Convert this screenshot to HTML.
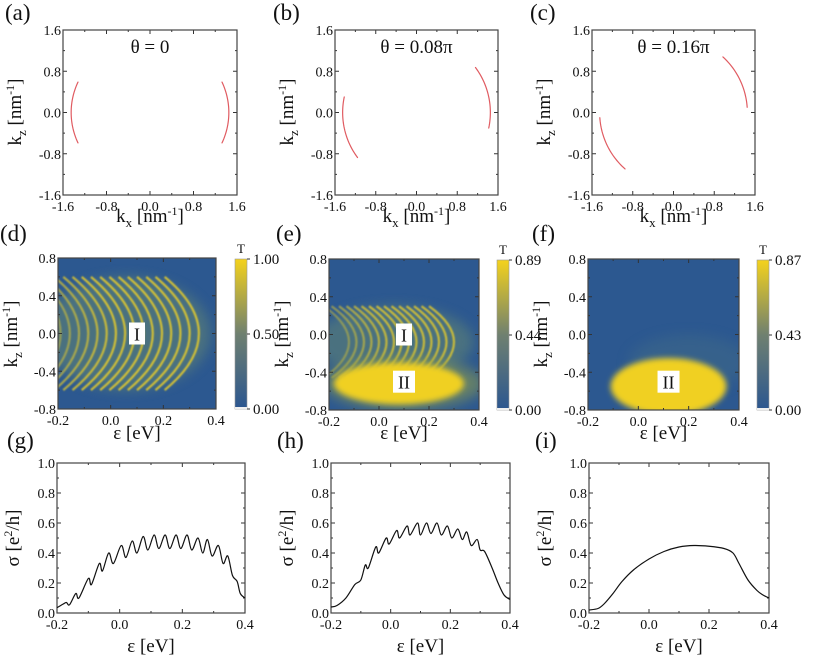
<!DOCTYPE html>
<html><head><meta charset="utf-8">
<style>
html,body{margin:0;padding:0;background:#fff;}
svg, svg text, svg tspan{font-family:"Liberation Serif","Times New Roman",Times,"DejaVu Serif",serif !important;}
svg{display:block;}
</style></head>
<body>
<svg id="fig" width="831" height="660" viewBox="0 0 831 660" xmlns="http://www.w3.org/2000/svg" font-family="Liberation Serif">
<defs>
<linearGradient id="cbar" x1="0" y1="1" x2="0" y2="0">
<stop offset="0" stop-color="#2b5690"/><stop offset="0.5" stop-color="#6f8070"/><stop offset="1" stop-color="#f4d21c"/>
</linearGradient>
<filter id="blur2" x="-30%" y="-30%" width="160%" height="160%"><feGaussianBlur stdDeviation="3"/></filter>
<filter id="blur4" x="-30%" y="-30%" width="160%" height="160%"><feGaussianBlur stdDeviation="6"/></filter>
<filter id="blur1"><feGaussianBlur stdDeviation="0.7"/></filter>
<clipPath id="clipd"><rect x="58" y="258" width="158" height="151"/></clipPath>
<clipPath id="clipe"><rect x="329" y="259" width="150" height="151"/></clipPath>
<clipPath id="clipf"><rect x="588" y="259" width="151" height="151"/></clipPath>
</defs>
</svg>
<script>
// ---- data ----
const kTicks = [-1.6, -0.8, 0.0, 0.8, 1.6];
const epsTicks = [-0.2, 0.0, 0.2, 0.4];
const kzTicks = [-0.8, -0.4, 0.0, 0.4, 0.8];
const sigTicks = [0.0, 0.2, 0.4, 0.6, 0.8, 1.0];
const thetaLabels = ["θ = 0", "θ = 0.08π", "θ = 0.16π"];
const arcRadius = 1.45;
const arcsA = [[156, 204], [-24, 24]];
const arcsB = [[168, 217], [-12, 37]];
const arcsC = [[184, 229], [4, 48]];
const stripesD = [-0.19,-0.155,-0.12,-0.085,-0.05,-0.015,0.02,0.055,0.09,0.125,0.16,0.195,0.23,0.265,0.30,0.335];
const stripesE = [-0.12,-0.09,-0.06,-0.03,0.0,0.03,0.06,0.09,0.12,0.15,0.18,0.21,0.24,0.27,0.30];
const cbarD = ["1.00", "0.50", "0.00"];
const cbarE = ["0.89", "0.44", "0.00"];
const cbarF = ["0.87", "0.43", "0.00"];
const gEps = [-0.2,-0.18,-0.17,-0.16,-0.14,-0.13,-0.10,-0.09,-0.065,-0.055,-0.035,-0.02,0.005,0.02,0.04,0.055,0.075,0.09,0.11,0.125,0.145,0.16,0.18,0.195,0.215,0.23,0.25,0.265,0.28,0.295,0.315,0.33,0.345,0.36,0.375,0.385,0.4];
const gSig = [0.035,0.06,0.07,0.055,0.13,0.10,0.23,0.19,0.33,0.28,0.40,0.33,0.45,0.37,0.48,0.40,0.51,0.42,0.52,0.43,0.52,0.43,0.52,0.43,0.52,0.42,0.50,0.40,0.49,0.38,0.45,0.33,0.38,0.25,0.21,0.13,0.10];
const hEps = [-0.2,-0.18,-0.15,-0.12,-0.1,-0.085,-0.075,-0.05,-0.04,-0.015,-0.005,0.02,0.03,0.055,0.065,0.09,0.1,0.12,0.135,0.155,0.17,0.19,0.205,0.225,0.24,0.255,0.27,0.29,0.30,0.315,0.34,0.36,0.38,0.4];
const hSig = [0.04,0.05,0.10,0.19,0.22,0.32,0.30,0.44,0.40,0.50,0.46,0.55,0.50,0.58,0.52,0.60,0.52,0.60,0.53,0.60,0.52,0.58,0.50,0.56,0.49,0.54,0.45,0.49,0.42,0.41,0.30,0.20,0.12,0.09];
const iEps = [-0.2,-0.17,-0.15,-0.12,-0.09,-0.05,0.0,0.05,0.1,0.15,0.2,0.25,0.28,0.3,0.33,0.36,0.38,0.4];
const iSig = [0.02,0.03,0.06,0.13,0.21,0.29,0.36,0.41,0.44,0.45,0.445,0.43,0.40,0.33,0.22,0.15,0.12,0.10];

const svg = document.getElementById('fig');
const NS = 'http://www.w3.org/2000/svg';
function mk(tag, attrs, parent, text){
  const e = document.createElementNS(NS, tag);
  for (const k in attrs) e.setAttribute(k, attrs[k]);
  if (tag === 'text') e.style.fontFamily = "'Liberation Serif','Times New Roman',Times,serif";
  if (text !== undefined) e.textContent = text;
  (parent || svg).appendChild(e);
  return e;
}
function scale(d0,d1,r0,r1){ return v => r0 + (v-d0)/(d1-d0)*(r1-r0); }
function fmt(v){ return v.toFixed(1); }

function axes(name, x0,y0,x1,y1, xt, yt, xminor, yminor, xs, ys){
  const g = mk('g', {});
  
  
  xt.forEach(v=>{
    const x = xs(v);
    mk('line',{x1:x,y1:y1,x2:x,y2:y1-4,stroke:'#333','stroke-width':1},g);
    mk('line',{x1:x,y1:y0,x2:x,y2:y0+4,stroke:'#333','stroke-width':1},g);
    const t = mk('text',{x:x,y:y1+16,'font-size':14,'text-anchor':'middle',fill:'#111'},g,fmt(v));
    
    
  });
  xminor.forEach(v=>{
    const x = xs(v);
    mk('line',{x1:x,y1:y1,x2:x,y2:y1-2,stroke:'#333','stroke-width':1},g);
    mk('line',{x1:x,y1:y0,x2:x,y2:y0+2,stroke:'#333','stroke-width':1},g);
  });
  yt.forEach(v=>{
    const y = ys(v);
    mk('line',{x1:x0,y1:y,x2:x0+4,y2:y,stroke:'#333','stroke-width':1},g);
    mk('line',{x1:x1,y1:y,x2:x1-4,y2:y,stroke:'#333','stroke-width':1},g);
    const t = mk('text',{x:x0-2,y:y+5,'font-size':14,'text-anchor':'end',fill:'#111'},g,fmt(v));
    
    
  });
  yminor.forEach(v=>{
    const y = ys(v);
    mk('line',{x1:x0,y1:y,x2:x0+2,y2:y,stroke:'#333','stroke-width':1},g);
    mk('line',{x1:x1,y1:y,x2:x1-2,y2:y,stroke:'#333','stroke-width':1},g);
  });
  const r = mk('rect',{x:x0,y:y0,width:x1-x0,height:y1-y0,fill:'none',stroke:'#444','stroke-width':1.2},g);
  
  
}
function mids(arr){ const o=[]; for(let i=0;i<arr.length-1;i++) o.push((arr[i]+arr[i+1])/2); return o; }
function panelLetter(x,y,txt){
  const t = mk('text',{x:x,y:y,'font-size':23,fill:'#111'},svg,txt);
  
  
}
function ylabel(x,y,kind){
  const t = mk('text',{x:0,y:0,'font-size':19,'text-anchor':'middle',fill:'#111',transform:`translate(${x},${y}) rotate(-90)`});
  
  
  if (kind==='k'){
    t.appendChild(document.createTextNode('k'));
    mk('tspan',{'font-size':13,dy:5},t,'z');
    mk('tspan',{dy:-5},t,' [nm');
    mk('tspan',{'font-size':12,dy:-7},t,'-1');
    mk('tspan',{dy:7},t,']');
  } else {
    t.appendChild(document.createTextNode('σ [e'));
    mk('tspan',{'font-size':12,dy:-7},t,'2');
    mk('tspan',{dy:7},t,'/h]');
  }
}
function xlabel(x,y,kind){
  const t = mk('text',{x:x,y:y,'font-size':19,'text-anchor':'middle',fill:'#111'});
  
  
  if (kind==='k'){
    t.appendChild(document.createTextNode('k'));
    mk('tspan',{'font-size':13,dy:5},t,'x');
    mk('tspan',{dy:-5},t,' [nm');
    mk('tspan',{'font-size':12,dy:-7},t,'-1');
    mk('tspan',{dy:7},t,']');
  } else {
    t.textContent = 'ε [eV]';
  }
}

// ---- top row ----
const topPanels = [{x0:63,x1:237,arcs:arcsA,L:'(a)'},{x0:335,x1:498,arcs:arcsB,L:'(b)'},{x0:592,x1:755,arcs:arcsC,L:'(c)'}];
topPanels.forEach((p,i)=>{
  const xs = scale(-1.6,1.6,p.x0,p.x1), ys = scale(-1.6,1.6,195,30);
  axes('fermi-'+i, p.x0,30,p.x1,195, kTicks,kTicks, mids(kTicks),mids(kTicks), xs,ys);
  p.arcs.forEach(a=>{
    let d='';
    for(let s=0;s<=30;s++){
      const th=(a[0]+(a[1]-a[0])*s/30)*Math.PI/180;
      d += (s?'L':'M')+xs(arcRadius*Math.cos(th)).toFixed(2)+','+ys(arcRadius*Math.sin(th)).toFixed(2);
    }
    const pa = mk('path',{d:d,fill:'none',stroke:'#d8323a','stroke-width':1.2,'stroke-linecap':'round',opacity:0.8});
    
    
  });
  const t = mk('text',{x:(p.x0+p.x1)/2,y:53,'font-size':19,'text-anchor':'middle',fill:'#111'},svg,thetaLabels[i]);
  
  
  panelLetter(p.x0-58+(i?-4:0),20,p.L);
  ylabel(p.x0-42,112,'k');
  xlabel((p.x0+p.x1)/2,222,'k');
});

// ---- middle row ----
const midPanels = [{x0:58,x1:216,cb:235,labels:cbarD,L:'(d)',clip:'clipd'},{x0:329,x1:479,cb:497,labels:cbarE,L:'(e)',clip:'clipe'},{x0:588,x1:739,cb:757,labels:cbarF,L:'(f)',clip:'clipf'}];
midPanels.forEach((p,i)=>{
  const y0=258+(i?1:0), y1=409+(i?1:0);
  const xs = scale(-0.2,0.4,p.x0,p.x1), ys = scale(-0.8,0.8,y1,y0);
  const g = mk('g',{'clip-path':`url(#${p.clip})`});
  
  
  mk('rect',{x:p.x0,y:y0,width:p.x1-p.x0,height:y1-y0,fill:'#2c5890'},g);
  function stripes(list, kc, kh, bend, op){
    mk('ellipse',{cx:xs(0.06),cy:ys(kc),rx:xs(0.38)-xs(0.06),ry:ys(kc-kh)-ys(kc),fill:'#557a7a',opacity:0.75,filter:'url(#blur4)'},g);
    list.forEach((e0,j)=>{
      const yt=ys(kc+kh), yb=ys(kc-kh), ym=ys(kc);
      const xe = xs(e0-bend), xc = xs(e0+bend);
      const s = mk('path',{d:`M${xe},${yt} Q${xc},${ym} ${xe},${yb}`,fill:'none',stroke:'#e8cd2a','stroke-width':2.2,opacity:op*(0.55+0.45*Math.min(1,j/6)),filter:'url(#blur1)'},g);
      
      
    });
  }
  if (i===0){ stripes(stripesD, 0.0, 0.6, 0.13, 0.85); }
  if (i===1){
    stripes(stripesE, -0.08, 0.38, 0.1, 0.8);
    mk('ellipse',{cx:xs(0.1),cy:ys(-0.52),rx:xs(0.42)-xs(0.1),ry:ys(-0.8)-ys(-0.52),fill:'#8a9a50',opacity:0.6,filter:'url(#blur4)'},g);
    const b = mk('ellipse',{cx:xs(0.08),cy:ys(-0.52),rx:xs(0.34)-xs(0.08),ry:ys(-0.74)-ys(-0.52),fill:'#f0d020',filter:'url(#blur2)'},g);
    
    
  }
  if (i===2){
    mk('ellipse',{cx:xs(0.2),cy:ys(-0.3),rx:60,ry:28,fill:'#3f6a88',opacity:0.5,filter:'url(#blur4)'},g);
    const b = mk('ellipse',{cx:xs(0.12),cy:ys(-0.55),rx:xs(0.35)-xs(0.12),ry:ys(-0.85)-ys(-0.55),fill:'#f0d020',filter:'url(#blur2)'},g);
    
    
  }
  axes('heatmap-'+i, p.x0,y0,p.x1,y1, epsTicks,kzTicks, mids(epsTicks),mids(kzTicks), xs,ys);
  function box(e,k,txt){
    const w = txt.length>1?22:16;
    const r = mk('rect',{x:xs(e)-w/2,y:ys(k)-11,width:w,height:22,fill:'#fff'});
    
    
    const t = mk('text',{x:xs(e),y:ys(k)+7,'font-size':18,'text-anchor':'middle',fill:'#111'},svg,txt);
    
    
  }
  if (i===0) box(0.1,0.0,'I');
  if (i===1){ box(0.1,0.0,'I'); box(0.1,-0.5,'II'); }
  if (i===2) box(0.12,-0.5,'II');
  const cb = mk('rect',{x:p.cb,y:y0+1,width:12,height:y1-y0-1,fill:'url(#cbar)',stroke:'#999','stroke-width':0.6});
  
  
  mk('rect',{x:p.cb,y:y1-2,width:12,height:2,fill:'#eee'});
  const tT = mk('text',{x:p.cb+6,y:y0-5,'font-size':13,'text-anchor':'middle',fill:'#111'},svg,'T');
  
  
  p.labels.forEach((lb,j)=>{
    const y = y0+1 + j*(y1-y0-1)/2;
    mk('line',{x1:p.cb+12,y1:y,x2:p.cb+15,y2:y,stroke:'#333'});
    const t = mk('text',{x:p.cb+18,y:y+5,'font-size':15,fill:'#111'},svg,lb);
    
    
  });
  panelLetter(p.x0-58+(i?5:0)+(i===2?-3:0),241,p.L);
  ylabel(p.x0-41,334,'k');
  xlabel((p.x0+p.x1)/2,439,'e');
});

// ---- bottom row ----
const botPanels = [{x0:57,x1:245,e:gEps,s:gSig,L:'(g)'},{x0:331,x1:510,e:hEps,s:hSig,L:'(h)'},{x0:589,x1:769,e:iEps,s:iSig,L:'(i)'}];
botPanels.forEach((p,i)=>{
  const xs = scale(-0.2,0.4,p.x0,p.x1), ys = scale(0,1,613,463);
  axes('conductance-'+i, p.x0,463,p.x1,613, epsTicks,sigTicks, mids(epsTicks),mids(sigTicks), xs,ys);
  const pts = p.e.map((e,j)=>[xs(e),ys(p.s[j])]);
  let d = 'M'+pts[0][0]+','+pts[0][1];
  for(let j=0;j<pts.length-1;j++){
    const p0=pts[Math.max(0,j-1)], p1=pts[j], p2=pts[j+1], p3=pts[Math.min(pts.length-1,j+2)];
    const c1=[p1[0]+(p2[0]-p0[0])/6, p1[1]+(p2[1]-p0[1])/6];
    const c2=[p2[0]-(p3[0]-p1[0])/6, p2[1]-(p3[1]-p1[1])/6];
    d += ` C${c1[0].toFixed(2)},${c1[1].toFixed(2)} ${c2[0].toFixed(2)},${c2[1].toFixed(2)} ${p2[0].toFixed(2)},${p2[1].toFixed(2)}`;
  }
  const l = mk('path',{d:d,fill:'none',stroke:'#111','stroke-width':1.2});
  
  
  panelLetter(p.x0-50+(i?-4:0),448,p.L);
  ylabel(p.x0-38,538,'s');
  xlabel((p.x0+p.x1)/2,652,'e');
});
</script>
</body></html>
